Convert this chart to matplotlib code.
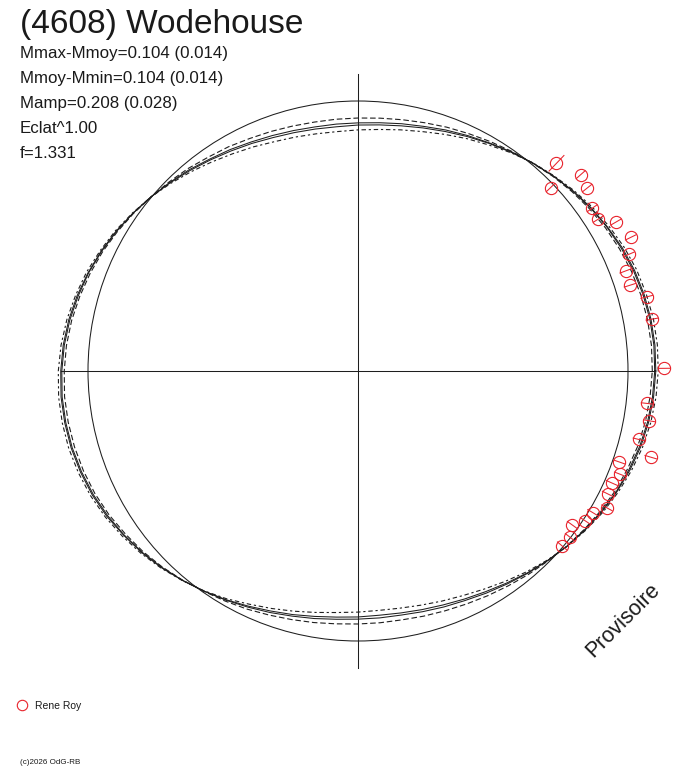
import numpy as np
import matplotlib
matplotlib.use("Agg")
import matplotlib.pyplot as plt
from matplotlib.patches import Circle
from matplotlib.lines import Line2D

plt.rcParams['font.family'] = ['Liberation Sans', 'DejaVu Sans']

title = "(4608) Wodehouse"
info_lines = ["Mmax-Mmoy=0.104 (0.014)",
              "Mmoy-Mmin=0.104 (0.014)",
              "Mamp=0.208 (0.028)",
              "Eclat^1.00",
              "f=1.331"]
observer = "Rene Roy"
credit = "(c)2026 OdG-RB"
stamp = "Provisoire"

# fitted light curve: relative flux (1 = mean) every 5 deg of rotation
fit_angle = np.arange(0, 360, 5)
fit_flux = [1.101, 1.102, 1.100, 1.095, 1.088, 1.078, 1.066, 1.053, 1.038, 1.022, 1.006, 0.990,
            0.974, 0.960, 0.947, 0.935, 0.926, 0.919, 0.915, 0.913, 0.914, 0.918, 0.924, 0.933,
            0.944, 0.956, 0.971, 0.986, 1.002, 1.018, 1.034, 1.049, 1.063, 1.075, 1.086, 1.094,
            1.099, 1.102, 1.101, 1.098, 1.092, 1.084, 1.073, 1.059, 1.045, 1.029, 1.012, 0.995,
            0.979, 0.963, 0.949, 0.937, 0.927, 0.919, 0.915, 0.913, 0.914, 0.919, 0.926, 0.935,
            0.947, 0.961, 0.977, 0.993, 1.010, 1.026, 1.042, 1.057, 1.070, 1.082, 1.091, 1.097]
# half spread of the dashed (uncertainty) solutions around the fit
dash_dev = [-0.011, -0.011, -0.011, -0.010, -0.010, -0.009, -0.007, -0.006, -0.004, -0.002, -0.001, 0.003,
            0.007, 0.010, 0.014, 0.017, 0.019, 0.021, 0.022, 0.023, 0.022, 0.021, 0.020, 0.017,
            0.015, 0.011, 0.008, 0.004, 0.000, -0.002, -0.004, -0.005, -0.007, -0.008, -0.009, -0.010,
            -0.011, -0.011, -0.011, -0.011, -0.010, -0.009, -0.008, -0.007, -0.005, -0.003, -0.001, 0.001,
            0.005, 0.010, 0.013, 0.016, 0.019, 0.021, 0.022, 0.023, 0.022, 0.021, 0.019, 0.017,
            0.014, 0.010, 0.006, 0.002, -0.001, -0.003, -0.005, -0.006, -0.008, -0.009, -0.010, -0.011]
# half spread of the two solid solutions
solid_dev = [-0.002, -0.002, -0.002, -0.002, -0.002, -0.002, -0.001, -0.001, -0.001, 0.000, 0.000, 0.001,
             0.001, 0.002, 0.003, 0.003, 0.004, 0.004, 0.004, 0.005, 0.004, 0.004, 0.004, 0.003,
             0.003, 0.002, 0.002, 0.001, 0.000, 0.000, -0.001, -0.001, -0.001, -0.002, -0.002, -0.002,
             -0.002, -0.002, -0.002, -0.002, -0.002, -0.002, -0.002, -0.001, -0.001, -0.001, 0.000, 0.000,
             0.001, 0.002, 0.003, 0.003, 0.004, 0.004, 0.004, 0.005, 0.004, 0.004, 0.004, 0.003,
             0.003, 0.002, 0.001, 0.000, 0.000, -0.001, -0.001, -0.001, -0.002, -0.002, -0.002, -0.002]

# observations (Rene Roy): angle in degrees, relative flux, error
obs_angle = [46.3, 41.4, 43.6, 38.6, 34.8, 32.3, 30.0, 26.1, 23.3, 20.5,
             17.5, 14.4, 10.0, 0.5, -6.4, -9.7, -13.7, -16.4, -19.2, -21.5,
             -23.8, -26.2, -28.8, -31.1, -33.4, -35.7, -38.1, -40.6]
obs_flux = [1.064, 1.099, 0.985, 1.086, 1.056, 1.053, 1.103, 1.125, 1.092, 1.058,
            1.056, 1.104, 1.106, 1.134, 1.078, 1.095, 1.071, 1.130, 1.025, 1.043,
            1.027, 1.031, 1.052, 1.016, 1.009, 0.977, 0.998, 0.995]
obs_err = [0.040, 0.022, 0.022, 0.022, 0.022, 0.022, 0.022, 0.022, 0.022, 0.022,
           0.022, 0.022, 0.022, 0.022, 0.022, 0.022, 0.022, 0.022, 0.022, 0.022,
           0.022, 0.022, 0.022, 0.022, 0.022, 0.022, 0.022, 0.022]

axis_len = 1.1
line_col = '#1e1e1e'
red = '#e8232c'


def to_xy(angle, flux):
    a = np.radians(angle)
    return np.asarray(flux) * np.cos(a), np.asarray(flux) * np.sin(a)


def closed(v):
    v = np.asarray(v, dtype=float)
    return np.append(v, v[0])


fig = plt.figure(figsize=(6.88, 7.68), dpi=100)
ax = fig.add_axes([0, 0, 1, 1])
ax.set_xlim(-358 / 270, 330 / 270)
ax.set_ylim(-397 / 270, 371 / 270)
ax.axis('off')

# cross
ax.plot([-axis_len, axis_len], [0, 0], color=line_col, lw=0.75)
ax.plot([0, 0], [-axis_len, axis_len], color=line_col, lw=0.75)

# mean circle
ax.add_patch(Circle((0, 0), 1.0, fill=False, ec=line_col, lw=0.75))

fa = closed(fit_angle)
ff = closed(fit_flux)
dd = closed(dash_dev)
sd = closed(solid_dev)

x, y = to_xy(fa, ff + sd)
ax.plot(x, y, color=line_col, lw=0.75)
x, y = to_xy(fa, ff - sd)
ax.plot(x, y, color=line_col, lw=0.75)
x, y = to_xy(fa, ff + dd)
ax.plot(x, y, color=line_col, lw=0.8, dashes=(5, 2.5))
x, y = to_xy(fa, ff - dd)
ax.plot(x, y, color=line_col, lw=0.8, dashes=(4, 2.5, 2, 2.5))

# observations with radial error bars
for ang, fl, er in zip(obs_angle, obs_flux, obs_err):
    ex, ey = to_xy(ang, [fl - er, fl + er])
    ax.plot(ex, ey, color=red, lw=0.75)
ox, oy = to_xy(np.array(obs_angle), obs_flux)
ax.plot(ox, oy, 'o', mfc='none', mec=red, mew=0.8, ms=8.8)

# texts
fig.text(20 / 688, 1 - 33 / 768, title, fontsize=24, color='#1a1a1a', va='baseline')
for i, s in enumerate(info_lines):
    fig.text(20 / 688, 1 - (58 + 25 * i) / 768, s, fontsize=12.2,
             color='#1a1a1a', va='baseline')

fig.text(623 / 688, 1 - 620 / 768, stamp, fontsize=15.5, color='#1a1a1a',
         rotation=45, ha='center', va='center', rotation_mode='anchor')

handle = Line2D([], [], marker='o', ls='none', mfc='none', mec=red, mew=0.8, ms=7.5)
fig.legend(handles=[handle], labels=[observer], loc='center left',
           bbox_to_anchor=(17 / 688, 1 - 706 / 768), frameon=False,
           fontsize=7.5, handlelength=1.0, handletextpad=0.7,
           borderpad=0, borderaxespad=0, labelcolor='#1a1a1a')

fig.text(20 / 688, 1 - 762 / 768, credit, fontsize=5.8, color='#1a1a1a', va='center')

fig.savefig('out.png', dpi=100)
